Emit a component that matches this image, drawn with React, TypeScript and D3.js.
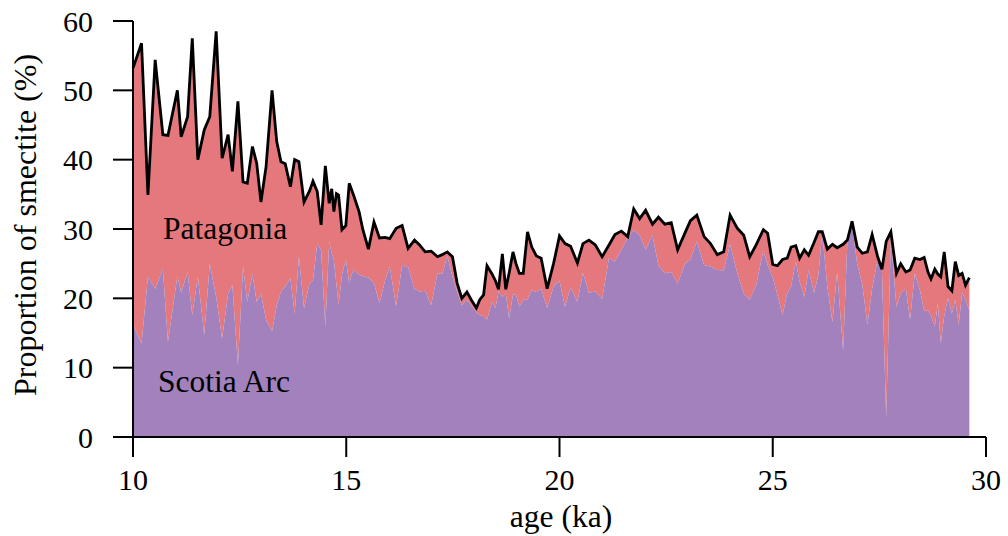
import React from "react";
import * as d3 from "d3";

// ages (ka) of samples
const ages = [
  10.0, 10.2, 10.35, 10.52, 10.7, 10.82, 11.04, 11.13, 11.28, 11.39, 11.52, 11.67, 11.8, 11.95,
  12.09, 12.23, 12.33, 12.46, 12.58, 12.68, 12.8, 12.9, 13.0, 13.12, 13.26, 13.37, 13.47, 13.57,
  13.69, 13.79, 13.89, 14.01, 14.14, 14.22, 14.32, 14.41, 14.51, 14.6, 14.66, 14.71, 14.77, 14.82,
  14.9, 14.99, 15.07, 15.17, 15.3, 15.39, 15.52, 15.65, 15.78, 15.91, 16.02, 16.17, 16.31, 16.45,
  16.6, 16.72, 16.85, 16.99, 17.14, 17.25, 17.37, 17.49, 17.6, 17.71, 17.83, 17.93, 18.05, 18.13,
  18.22, 18.3, 18.42, 18.5, 18.57, 18.66, 18.74, 18.82, 18.91, 18.98, 19.06, 19.15, 19.25, 19.35,
  19.46, 19.57, 19.71, 19.86, 20.0, 20.13, 20.26, 20.42, 20.55, 20.69, 20.84, 21.0, 21.16, 21.3,
  21.45, 21.6, 21.74, 21.88, 22.02, 22.18, 22.32, 22.47, 22.62, 22.77, 22.94, 23.07, 23.22, 23.39,
  23.54, 23.7, 23.85, 24.0, 24.17, 24.32, 24.46, 24.61, 24.78, 24.88, 25.0, 25.11, 25.23, 25.34,
  25.43, 25.54, 25.63, 25.74, 25.84, 25.97, 26.07, 26.16, 26.28, 26.4, 26.51, 26.65, 26.75, 26.86,
  26.98, 27.1, 27.22, 27.33, 27.46, 27.56, 27.66, 27.77, 27.9, 28.0, 28.12, 28.22, 28.33, 28.45,
  28.55, 28.64, 28.71, 28.8, 28.87, 28.94, 29.02, 29.11, 29.2, 29.28, 29.36, 29.44, 29.52, 29.61,
];

// total smectite (%) = Scotia Arc + Patagonia (top black line)
const totalSmectite = [
  53.2, 56.8, 34.9, 54.4, 43.6, 43.5, 50.0, 43.3, 46.2, 57.5, 40.0, 44.3, 46.2, 58.5,
  40.2, 43.6, 38.3, 48.4, 36.8, 36.6, 41.9, 39.5, 33.9, 39.0, 50.0, 42.6, 39.7, 39.4,
  36.1, 40.0, 39.7, 33.9, 35.5, 36.9, 35.4, 30.6, 39.1, 33.7, 35.8, 32.5, 35.1, 34.9,
  29.9, 30.5, 36.6, 34.9, 32.5, 29.9, 27.1, 31.0, 28.7, 28.8, 28.6, 30.1, 30.5, 27.2,
  28.4, 27.7, 26.7, 26.8, 26.0, 26.3, 26.7, 26.0, 22.2, 20.0, 20.9, 19.8, 18.6, 19.8,
  20.5, 24.7, 23.5, 22.5, 21.3, 26.4, 21.3, 23.7, 26.7, 25.0, 23.6, 23.6, 29.6, 27.4,
  26.1, 25.8, 21.4, 25.0, 29.0, 27.9, 27.5, 25.1, 27.9, 28.4, 27.7, 26.0, 27.7, 29.2,
  29.7, 28.9, 32.9, 31.5, 32.7, 30.7, 31.7, 30.7, 30.9, 27.0, 29.4, 31.2, 32.0, 28.9,
  27.9, 26.3, 26.7, 32.0, 30.1, 29.1, 26.0, 27.7, 29.9, 29.4, 24.9, 24.7, 25.6, 25.8,
  27.4, 27.6, 25.8, 27.0, 26.2, 28.1, 29.6, 29.6, 27.1, 27.8, 27.3, 27.8, 28.4, 31.1,
  27.4, 26.5, 26.7, 29.2, 26.0, 24.2, 28.2, 29.6, 23.6, 25.0, 23.8, 24.1, 25.8, 25.6,
  25.9, 23.8, 22.8, 24.2, 23.5, 23.1, 26.7, 21.7, 21.1, 25.3, 23.3, 23.6, 21.9, 23.0,
];

// Scotia Arc contribution (%) (purple)
const scotiaArc = [
  16.2, 13.5, 23.1, 21.4, 24.2, 13.7, 23.2, 20.8, 23.8, 17.6, 23.1, 14.7, 25.0, 20.2,
  14.2, 20.7, 21.9, 10.4, 24.6, 19.5, 23.5, 19.5, 20.7, 16.9, 15.2, 19.0, 21.0, 21.7,
  22.9, 17.8, 26.0, 18.6, 22.2, 22.6, 27.9, 27.0, 15.9, 28.2, 26.5, 25.5, 22.0, 19.0,
  23.4, 25.6, 22.2, 24.2, 23.4, 23.2, 23.0, 22.2, 19.3, 22.6, 24.6, 18.9, 24.8, 24.5,
  21.4, 21.0, 21.1, 19.0, 23.6, 23.5, 26.1, 23.1, 21.0, 19.0, 19.8, 19.0, 18.0, 17.6,
  17.4, 16.9, 19.5, 18.6, 21.0, 20.2, 20.7, 17.1, 20.6, 20.5, 18.8, 19.8, 19.8, 21.2,
  20.9, 21.4, 18.6, 21.7, 22.5, 18.8, 21.6, 19.5, 23.7, 20.8, 21.0, 19.9, 25.8, 25.3,
  27.0, 28.7, 29.9, 29.1, 27.0, 29.1, 24.7, 23.6, 23.8, 22.1, 25.0, 25.6, 28.2, 24.8,
  24.6, 24.1, 24.0, 27.8, 23.6, 20.7, 19.8, 21.9, 26.9, 24.8, 23.0, 20.5, 17.6, 20.8,
  21.7, 25.3, 22.4, 20.2, 24.1, 20.8, 23.4, 29.4, 21.7, 16.6, 23.8, 12.5, 28.2, 30.4,
  25.0, 22.0, 16.2, 21.4, 25.6, 24.0, 2.9, 28.7, 18.8, 20.7, 21.4, 16.9, 23.6, 21.2,
  18.2, 18.2, 17.5, 15.9, 19.3, 13.5, 17.5, 20.0, 17.8, 19.8, 16.2, 20.8, 19.8, 18.3,
];

const xTicks = [10, 15, 20, 25, 30];
const yTicks = [0, 10, 20, 30, 40, 50, 60];
const xLabel = "age (ka)";
const yLabel = "Proportion of smectite (%)";
const seriesLabels = ["Patagonia", "Scotia Arc"];

const W = 1008;
const H = 536;
const FONT = "'Liberation Serif', 'Times New Roman', serif";

export default function App() {
  const x = d3.scaleLinear().domain([10, 30]).range([133, 986]);
  const y = d3.scaleLinear().domain([0, 60]).range([437, 21]);
  const idx = ages.map((_, i) => i);

  const scotiaArea = d3
    .area<number>()
    .x((i) => x(ages[i]))
    .y0(() => y(0))
    .y1((i) => y(scotiaArc[i]))(idx) as string;

  const patagoniaArea = d3
    .area<number>()
    .x((i) => x(ages[i]))
    .y0((i) => y(scotiaArc[i]))
    .y1((i) => y(totalSmectite[i]))(idx) as string;

  const topLine = d3
    .line<number>()
    .x((i) => x(ages[i]))
    .y((i) => y(totalSmectite[i]))(idx) as string;

  const tickFs = 30;
  const labelFs = 31.5;

  return (
    <svg
      width={W}
      height={H}
      style={{ position: "absolute", left: 0, top: 0, display: "block", background: "#fff" }}
      fontFamily={FONT}
    >
      <path d={patagoniaArea} fill="#E4787C" stroke="none" />
      <path d={scotiaArea} fill="#A281BC" stroke="none" />
      <path d={topLine} fill="none" stroke="#000" strokeWidth={2.8} strokeLinejoin="miter" />

      {/* y axis */}
      <line x1={x(10)} x2={x(10)} y1={y(0)} y2={y(60)} stroke="#000" strokeWidth={2} />
      {yTicks.map((t) => (
        <g key={"y" + t}>
          <line x1={x(10) - 20} x2={x(10)} y1={y(t)} y2={y(t)} stroke="#000" strokeWidth={2} />
          <text x={93} y={y(t)} dy="0.35em" textAnchor="end" fontSize={tickFs}>
            {t}
          </text>
        </g>
      ))}

      {/* x axis */}
      <line x1={x(10)} x2={x(30)} y1={y(0)} y2={y(0)} stroke="#000" strokeWidth={2} />
      {xTicks.map((t) => (
        <g key={"x" + t}>
          <line x1={x(t)} x2={x(t)} y1={y(0)} y2={y(0) + 20} stroke="#000" strokeWidth={2} />
          <text x={x(t)} y={490} textAnchor="middle" fontSize={tickFs}>
            {t}
          </text>
        </g>
      ))}

      <text x={561} y={527} textAnchor="middle" fontSize={labelFs}>
        {xLabel}
      </text>
      <text
        transform={`translate(36, 225) rotate(-90)`}
        textAnchor="middle"
        fontSize={32}
      >
        {yLabel}
      </text>

      <text x={163} y={239} fontSize={labelFs}>
        {seriesLabels[0]}
      </text>
      <text x={158} y={392} fontSize={labelFs}>
        {seriesLabels[1]}
      </text>
    </svg>
  );
}
